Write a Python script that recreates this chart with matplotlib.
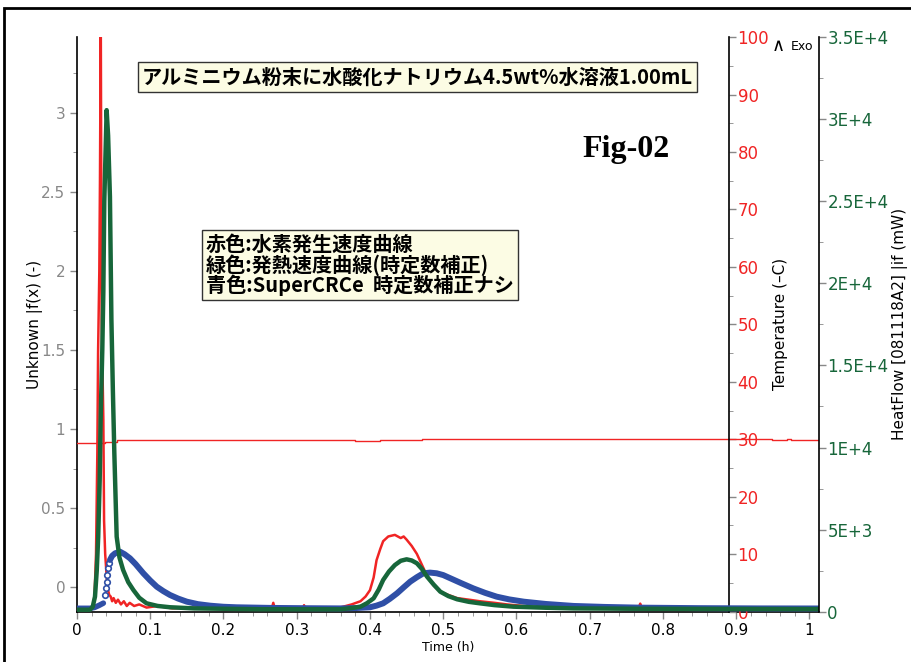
import matplotlib
matplotlib.use('Agg')
import matplotlib.pyplot as plt
from matplotlib.patches import Rectangle
from matplotlib.ticker import MultipleLocator

plt.rcParams['font.family'] = ['DejaVu Sans', 'Noto Sans CJK JP']

# red: hydrogen generation rate (left axis, Unknown |f(x))
red_t = [0.0, 0.022, 0.024, 0.026, 0.0278, 0.0288, 0.0305, 0.0314, 0.0325, 0.0337,
         0.036, 0.037, 0.0385, 0.0415, 0.044, 0.046, 0.048, 0.050, 0.053, 0.056,
         0.060, 0.064, 0.068, 0.072, 0.078, 0.085, 0.095, 0.110, 0.130, 0.160,
         0.200, 0.240, 0.266, 0.268, 0.270, 0.300, 0.309, 0.310, 0.311, 0.340,
         0.359, 0.375, 0.387, 0.394, 0.400, 0.405, 0.409, 0.414, 0.418, 0.425,
         0.434, 0.442, 0.446, 0.450, 0.457, 0.464, 0.471, 0.478, 0.487, 0.496,
         0.507, 0.519, 0.535, 0.550, 0.570, 0.587, 0.610, 0.632, 0.700, 0.767,
         0.769, 0.771, 0.850, 0.950, 1.013]
red_v = [-0.13, -0.13, -0.05, 0.21, 0.85, 1.48, 2.0, 2.58, 3.6, 1.69,
         1.06, 0.42, 0.21, 0.0, -0.05, -0.06, -0.09, -0.07, -0.10, -0.08,
         -0.11, -0.09, -0.12, -0.10, -0.12, -0.11, -0.13, -0.12, -0.135, -0.13,
         -0.135, -0.13, -0.135, -0.10, -0.135, -0.13, -0.135, -0.115, -0.135, -0.13,
         -0.13, -0.11, -0.09, -0.06, -0.02, 0.06, 0.17, 0.24, 0.29, 0.32,
         0.33, 0.31, 0.32, 0.30, 0.26, 0.21, 0.14, 0.07, 0.01, -0.03,
         -0.05, -0.07, -0.08, -0.09, -0.10, -0.11, -0.12, -0.13, -0.13, -0.13,
         -0.105, -0.13, -0.13, -0.13, -0.13]

# temperature (stepwise, deg)
temp_t = [0.0, 0.038, 0.054, 0.380, 0.414, 0.471, 0.949, 0.970, 0.975, 1.013]
temp_v = [29.4, 29.6, 29.88, 29.7, 29.88, 30.05, 29.85, 30.05, 29.85, 29.85]

# green: heat flow, time constant corrected (mW)
green_t = [0.0, 0.0178, 0.0215, 0.0246, 0.027, 0.029, 0.031, 0.0323, 0.0346, 0.036,
           0.0373, 0.0405, 0.0425, 0.045, 0.047, 0.049, 0.051, 0.0542, 0.058, 0.063,
           0.070, 0.077, 0.085, 0.095, 0.110, 0.127, 0.160, 0.250, 0.359, 0.375,
           0.387, 0.396, 0.405, 0.412, 0.418, 0.426, 0.434, 0.442, 0.450, 0.457,
           0.464, 0.471, 0.478, 0.487, 0.496, 0.507, 0.519, 0.535, 0.550, 0.570,
           0.596, 0.640, 0.678, 0.760, 0.850, 1.013]
green_h = [120, 120, 300, 915, 2500, 4570, 8000, 11680, 16000, 19500,
           25000, 30550, 29000, 25270, 17800, 13500, 9660, 4570, 3300, 2540,
           1800, 1320, 850, 510, 350, 270, 200, 150, 146, 220,
           305, 520, 815, 1350, 1930, 2450, 2840, 3100, 3190, 3120,
           2950, 2600, 2130, 1650, 1220, 950, 755, 600, 510, 400,
           305, 240, 200, 180, 170, 160]

# blue: SuperCRCe, no time constant correction (mW)
blue_start_t = [0.0, 0.018, 0.024, 0.030, 0.036]
blue_start_h = [205, 205, 260, 380, 520]
blue_rise_t = [0.0385, 0.0395, 0.0405, 0.0415, 0.0428, 0.044]
blue_rise_h = [1020, 1420, 1830, 2235, 2640, 2950]
blue_t = [0.045, 0.048, 0.052, 0.0587, 0.065, 0.0724, 0.080, 0.0906, 0.100, 0.109,
          0.118, 0.127, 0.138, 0.150, 0.165, 0.182, 0.200, 0.218, 0.264, 0.320,
          0.359, 0.380, 0.400, 0.409, 0.418, 0.427, 0.437, 0.446, 0.455, 0.464,
          0.473, 0.482, 0.491, 0.500, 0.510, 0.525, 0.541, 0.557, 0.573, 0.590,
          0.610, 0.640, 0.678, 0.720, 0.769, 0.850, 0.930, 1.013]
blue_h = [3150, 3400, 3555, 3655, 3500, 3250, 2900, 2340, 1900, 1520,
          1250, 1017, 800, 610, 460, 365, 300, 268, 230, 210,
          200, 220, 268, 370, 510, 780, 1120, 1480, 1830, 2100,
          2340, 2380, 2340, 2230, 2030, 1730, 1420, 1150, 915, 750,
          610, 470, 350, 290, 245, 215, 200, 195]

left_ticks = [0, 0.5, 1, 1.5, 2, 2.5, 3]
left_labels = ['0', '0.5', '1', '1.5', '2', '2.5', '3']
x_ticks = [0, 0.1, 0.2, 0.3, 0.4, 0.5, 0.6, 0.7, 0.8, 0.9, 1.0]
x_labels = ['0', '0.1', '0.2', '0.3', '0.4', '0.5', '0.6', '0.7', '0.8', '0.9', '1']
temp_ticks = [0, 10, 20, 30, 40, 50, 60, 70, 80, 90, 100]
hf_ticks = [0, 5000, 10000, 15000, 20000, 25000, 30000, 35000]
hf_labels = ['0', '5E+3', '1E+4', '1.5E+4', '2E+4', '2.5E+4', '3E+4', '3.5E+4']

title_text = 'アルミニウム粉末に水酸化ナトリウム4.5wt%水溶液1.00mL'
note_text = '赤色:水素発生速度曲線\n緑色:発熱速度曲線(時定数補正)\n青色:SuperCRCe  時定数補正ナシ'

RED = '#f02424'
GREEN = '#17663a'
BLUE = '#2f4fa6'
GREY = '#888888'
CJK = ['Noto Sans CJK JP', 'DejaVu Sans']

fig = plt.figure(figsize=(9.12, 6.62), dpi=100)
ax = fig.add_axes([0.0844, 0.076, 0.8136, 0.868])
ax_t = ax.twinx()
ax_h = ax.twinx()

ax.plot(red_t, red_v, color=RED, lw=1.8, zorder=3)
ax_t.plot(temp_t, temp_v, color=RED, lw=1.0, drawstyle='steps-post')
ax_h.plot(blue_start_t, blue_start_h, color=BLUE, lw=4, solid_capstyle='round')
ax_h.plot(blue_rise_t, blue_rise_h, 'o', color=BLUE, mfc='white', ms=4, mew=1.2)
ax_h.plot(blue_t, blue_h, color=BLUE, lw=4.3, solid_capstyle='round')
ax_h.plot(green_t, green_h, color=GREEN, lw=3.2)

ax.set_xlim(0, 1.013)
ax.set_ylim(-0.156, 3.48)
ax_t.set_ylim(0, 100)
ax_h.set_ylim(0, 35000)

# left axis
for s in ['top', 'right']:
    ax.spines[s].set_visible(False)
ax.spines['left'].set_linewidth(1.2)
ax.spines['bottom'].set_linewidth(1.2)
ax.set_yticks(left_ticks)
ax.set_yticklabels(left_labels)
ax.yaxis.set_minor_locator(MultipleLocator(0.25))
ax.set_xticks(x_ticks)
ax.set_xticklabels(x_labels)
ax.xaxis.set_minor_locator(MultipleLocator(0.02))
ax.tick_params(axis='y', colors=GREY, labelsize=11, length=5, width=1)
ax.tick_params(axis='y', which='minor', colors=GREY, length=3)
ax.tick_params(axis='x', colors=GREY, labelcolor='black', labelsize=11, length=5, width=1)
ax.tick_params(axis='x', which='minor', colors=GREY, length=3)
ax.set_ylabel('Unknown |f(x) (-)', fontsize=11)
ax.yaxis.set_label_coords(-0.046, 0.5)
ax.set_xlabel('Time (h)', fontsize=9, labelpad=2)

# temperature axis
for s in ['top', 'left', 'bottom']:
    ax_t.spines[s].set_visible(False)
ax_t.spines['right'].set_position(('axes', 0.879))
ax_t.spines['right'].set_linewidth(1.2)
ax_t.set_yticks(temp_ticks)
ax_t.yaxis.set_minor_locator(MultipleLocator(5))
ax_t.tick_params(axis='y', colors=GREY, labelcolor=RED, labelsize=12, length=5, width=1, pad=1)
ax_t.tick_params(axis='y', which='minor', colors=GREY, length=3)
ax_t.set_ylabel('Temperature (–C)', fontsize=11, labelpad=3)

# heat flow axis
for s in ['top', 'left', 'bottom']:
    ax_h.spines[s].set_visible(False)
ax_h.spines['right'].set_linewidth(1.2)
ax_h.set_yticks(hf_ticks)
ax_h.set_yticklabels(hf_labels)
ax_h.yaxis.set_minor_locator(MultipleLocator(2500))
ax_h.tick_params(axis='y', colors=GREY, labelcolor=GREEN, labelsize=12, length=5, width=1, pad=1)
ax_h.tick_params(axis='y', which='minor', colors=GREY, length=3)
ax_h.set_ylabel('HeatFlow [081118A2] |if (mW)', fontsize=11)
ax_h.yaxis.set_label_coords(1.098, 0.5)

# annotations
fig.text(417.5 / 912, 1 - 77 / 662, title_text, ha='center', va='center',
         fontsize=14.5, fontweight='bold', family=CJK,
         bbox=dict(boxstyle='square,pad=0.2', fc='#fcfce4', ec='#333333', lw=1))
fig.text(206 / 912, 1 - 265 / 662, note_text, ha='left', va='center',
         fontsize=14.5, fontweight='bold', family=CJK, linespacing=0.95,
         bbox=dict(boxstyle='square,pad=0.2', fc='#fcfce4', ec='#333333', lw=1))
fig.text(626 / 912, 1 - 150 / 662, 'Fig-02', ha='center', va='center',
         fontsize=23, fontweight='bold', family='Liberation Serif')
fig.text(778 / 912, 1 - 46 / 662, '∧', ha='center', va='center', fontsize=13)
fig.text(791 / 912, 1 - 47 / 662, 'Exo', ha='left', va='center', fontsize=9)

# outer frame
fig.patches.append(Rectangle((4.5 / 912, -0.05), 1.2, 1.0379, transform=fig.transFigure,
                             fill=False, lw=2, ec='black'))

fig.savefig('out.png', dpi=100)
